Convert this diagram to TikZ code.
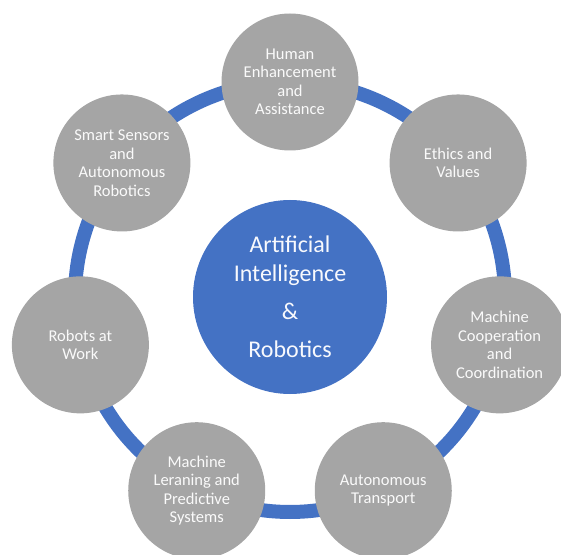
\documentclass[tikz,border=0pt]{standalone}
\usepackage{fontspec}
\setmainfont{Carlito}
\usetikzlibrary{backgrounds}
\definecolor{aiblue}{HTML}{4472C4}
\definecolor{aigray}{HTML}{A5A5A5}
\tikzset{
	topic/.style={circle,fill=aigray,minimum size=137pt,inner sep=0pt,align=center,
		text=white!94!aigray,font=\fontsize{16.5}{18.5}\selectfont},
	hub/.style={circle,fill=aiblue,minimum size=194pt,inner sep=0pt,align=center,
		text=white!96!aiblue,font=\fontsize{24}{28.5}\selectfont},
	ring/.style={aiblue,line width=14pt}
}
\begin{document}
\begin{tikzpicture}[x=1pt,y=1pt]
		\useasboundingbox (-290,-257) rectangle (271,297);
		\node[hub] (ai) at (0,0) {Artificial\\Intelligence\\[9.5pt]\&\\[9.5pt]Robotics};
		\node[topic] (human) at (90:215) {Human\\Enhancement\\and\\Assistance};
		\node[topic] (ethics) at (38.57:215) {Ethics and\\Values};
		\node[topic] (coop) at (-12.86:215) {Machine\\Cooperation\\and\\Coordination};
		\node[topic] (transport) at (-64.29:215) {Autonomous\\Transport};
		\node[topic] (learning) at (-115.71:215) {Machine\\Leraning and\\Predictive\\Systems};
		\node[topic] (work) at (-167.14:215) {Robots at\\Work};
		\node[topic] (sensors) at (141.43:215) {Smart Sensors\\and\\Autonomous\\Robotics};
		\begin{scope}[on background layer]
			\foreach \a/\b in {human/ethics,ethics/coop,coop/transport,transport/learning,learning/work,work/sensors,sensors/human}
				\draw[ring] (\a.center) to[bend left=25.7,looseness=0.9] (\b.center);
		\end{scope}
		\end{tikzpicture}
\end{document}
